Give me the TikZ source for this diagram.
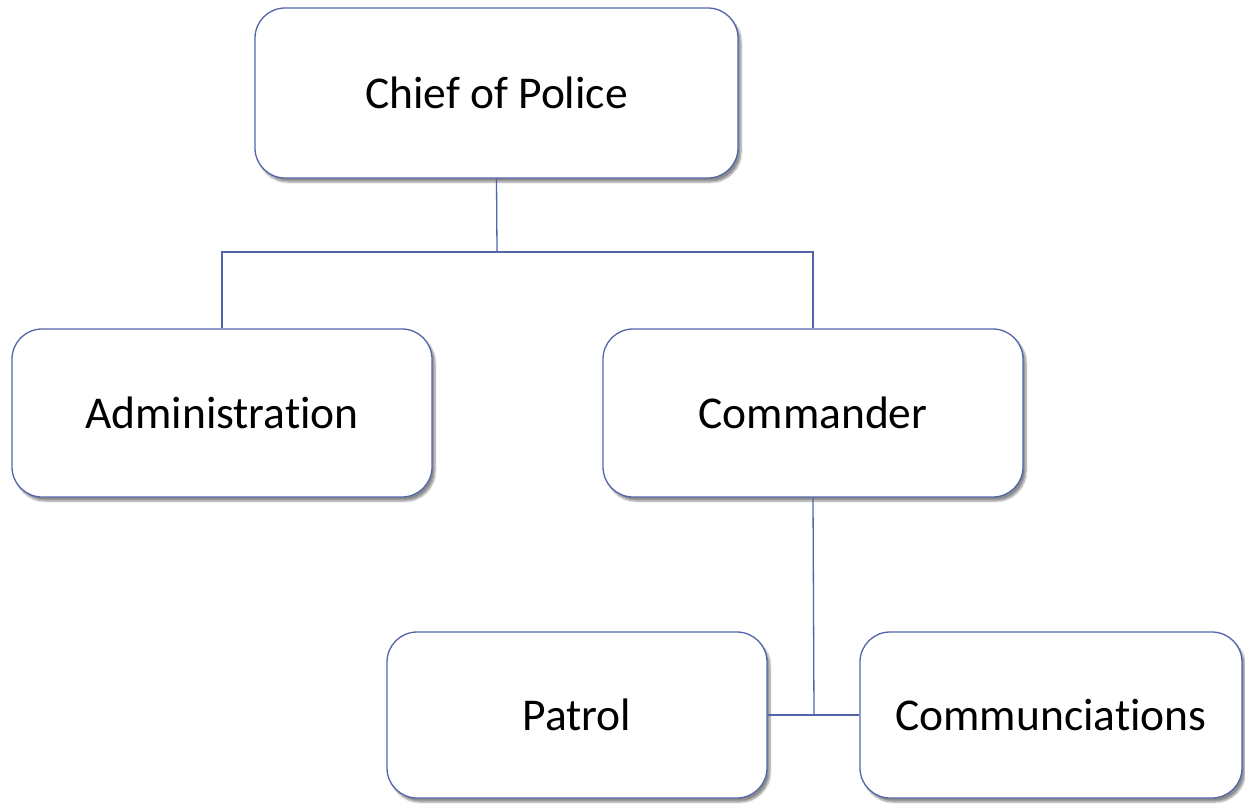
\documentclass[tikz,border=0pt]{standalone}
\usepackage{fontspec}
\setmainfont[Ligatures={NoCommon}]{Carlito}
\usetikzlibrary{shadows.blur}
\definecolor{boxline}{RGB}{84,100,168}
\begin{document}
\begin{tikzpicture}[x=1pt,y=-1pt,
  orgbox/.style={draw=boxline, line width=1.3pt, fill=white, rounded corners=30pt,
    inner sep=0pt, font=\fontsize{45.5}{52}\selectfont,
    blur shadow={shadow xshift=3pt, shadow yshift=-4pt, shadow blur steps=6, shadow opacity=45}},
  link/.style={draw=boxline, line width=1.3pt}]
\useasboundingbox (0,0) rectangle (1245,804);
\node[orgbox, minimum width=483pt, minimum height=170pt] (chief) at (496.5,93) {Chief of Police};
\node[orgbox, minimum width=420pt, minimum height=168pt] (admin) at (222,413) {Administration};
\node[orgbox, minimum width=420pt, minimum height=168pt] (cmd) at (813,413) {Commander};
\node[orgbox, minimum width=380pt, minimum height=166pt] (patrol) at (577,715) {Patrol};
\node[orgbox, minimum width=382pt, minimum height=166pt] (comm) at (1051,715) {Communciations};
\coordinate (split) at (497,252);
\coordinate (join) at (814,715);
\path[link] (chief.south) -- (split);
\path[link] (admin.north) |- (split) -| (cmd.north);
\path[link] (cmd.south) -- (join);
\path[link] (patrol.east) -- (comm.west);
\end{tikzpicture}
\end{document}
